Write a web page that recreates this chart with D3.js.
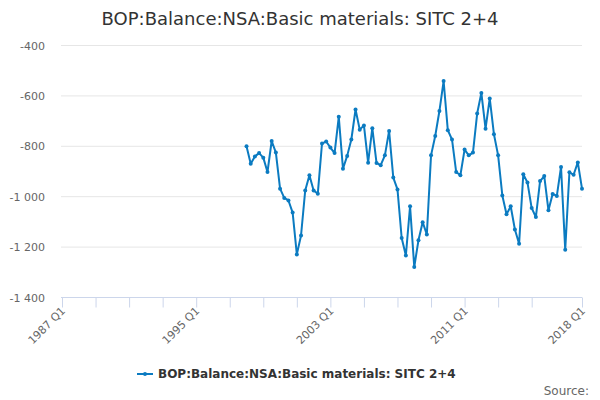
<!DOCTYPE html>
<html>
<head>
<meta charset="utf-8">
<script src="https://cdn.jsdelivr.net/npm/d3@7.9.0/dist/d3.min.js"></script>
<style>
  body { margin: 0; background: #fff; }
  svg { font-family: "DejaVu Sans", sans-serif; }
</style>
</head>
<body>
<svg id="chart" width="600" height="400"></svg>
<script>
// Series: quarterly values, 1998 Q1 .. 2018 Q1
const seriesName = 'BOP:Balance:NSA:Basic materials: SITC 2+4';
const startQuarter = 44; // quarters after 1987 Q1 (= 1998 Q1)
const values = [
    -800, -869, -840, -827, -845, -902, -779, -825, -968, -1005,
    -1015, -1063, -1229, -1154, -975, -915, -975, -988, -789, -781,
    -805, -827, -683, -889, -838, -773, -654, -734, -717, -865,
    -728, -866, -875, -836, -739, -924, -971, -1164, -1233, -1038,
    -1279, -1173, -1101, -1150, -836, -759, -660, -541, -736, -773,
    -902, -915, -813, -836, -825, -670, -588, -730, -610, -752,
    -836, -995, -1070, -1038, -1130, -1187, -911, -944, -1045, -1081,
    -938, -918, -1054, -989, -997, -882, -1211, -903, -913, -864,
    -968
];
const yTicks = [-400, -600, -800, -1000, -1200, -1400];
// tick marks every 8 quarters, plus the final quarter
const xTicks = [0, 8, 16, 24, 32, 40, 48, 56, 64, 72, 80, 88, 96, 104, 112, 124];
const xLabels = [[0, '1987 Q1'], [32, '1995 Q1'], [64, '2003 Q1'], [96, '2011 Q1'], [124, '2018 Q1']];

const data = values.map((v, i) => ({ q: startQuarter + i, value: v }));

const svg = d3.select('#chart');
const color = '#0b7bc1';

const x = d3.scaleLinear().domain([0, 124]).range([62, 582]);
const y = d3.scaleLinear().domain([-1400, -400]).range([297.5, 45.5]);

// Title
svg.append('text')
    .attr('x', 300).attr('y', 25)
    .attr('text-anchor', 'middle')
    .attr('font-size', 18)
    .attr('fill', '#333')
    .text(seriesName);

// Gridlines + y labels
const fmt = v => d3.format(',')(v).replace(/,/g, ' ').replace('−', '-');
svg.append('g').selectAll('line')
    .data(yTicks.filter(t => t !== -1400))
    .join('line')
    .attr('x1', 61).attr('x2', 582)
    .attr('y1', d => y(d)).attr('y2', d => y(d))
    .attr('stroke', '#e6e6e6');
svg.append('g').selectAll('text')
    .data(yTicks)
    .join('text')
    .attr('x', 45).attr('y', d => y(d) + 4)
    .attr('text-anchor', 'end')
    .attr('font-size', 11)
    .attr('fill', '#666')
    .text(fmt);

// X axis
const xAxis = svg.append('g');
xAxis.append('line')
    .attr('x1', 61).attr('x2', 582)
    .attr('y1', y(-1400)).attr('y2', y(-1400))
    .attr('stroke', '#ccd6eb');
xAxis.selectAll('line.tick')
    .data(xTicks)
    .join('line')
    .attr('class', 'tick')
    .attr('x1', d => x(d) + 0.5).attr('x2', d => x(d) + 0.5)
    .attr('y1', y(-1400)).attr('y2', y(-1400) + 10)
    .attr('stroke', '#ccd6eb');
xAxis.selectAll('text')
    .data(xLabels)
    .join('text')
    .attr('transform', d => `translate(${x(d[0]) + 4},${y(-1400) + 14}) rotate(-45)`)
    .attr('text-anchor', 'end')
    .attr('font-size', 11)
    .attr('fill', '#666')
    .text(d => d[1]);

// Line
const line = d3.line().x(d => x(d.q)).y(d => y(d.value));
svg.append('path')
    .datum(data)
    .attr('d', line)
    .attr('fill', 'none')
    .attr('stroke', color)
    .attr('stroke-width', 2)
    .attr('stroke-linejoin', 'round');
svg.append('g').selectAll('circle')
    .data(data)
    .join('circle')
    .attr('cx', d => x(d.q)).attr('cy', d => y(d.value))
    .attr('r', 2)
    .attr('fill', color);

// Legend
const legend = svg.append('g').attr('transform', 'translate(137,374)');
legend.append('line').attr('x1', 0).attr('x2', 16).attr('stroke', color).attr('stroke-width', 2);
legend.append('circle').attr('cx', 8).attr('r', 2).attr('fill', color);
legend.append('text')
    .attr('x', 21).attr('y', 4)
    .attr('font-size', 12)
    .attr('font-weight', 'bold')
    .attr('fill', '#333')
    .text(seriesName);

// Credits
svg.append('text')
    .attr('x', 589).attr('y', 395)
    .attr('text-anchor', 'end')
    .attr('font-size', 12)
    .attr('fill', '#666')
    .text('Source:');
</script>
</body>
</html>
